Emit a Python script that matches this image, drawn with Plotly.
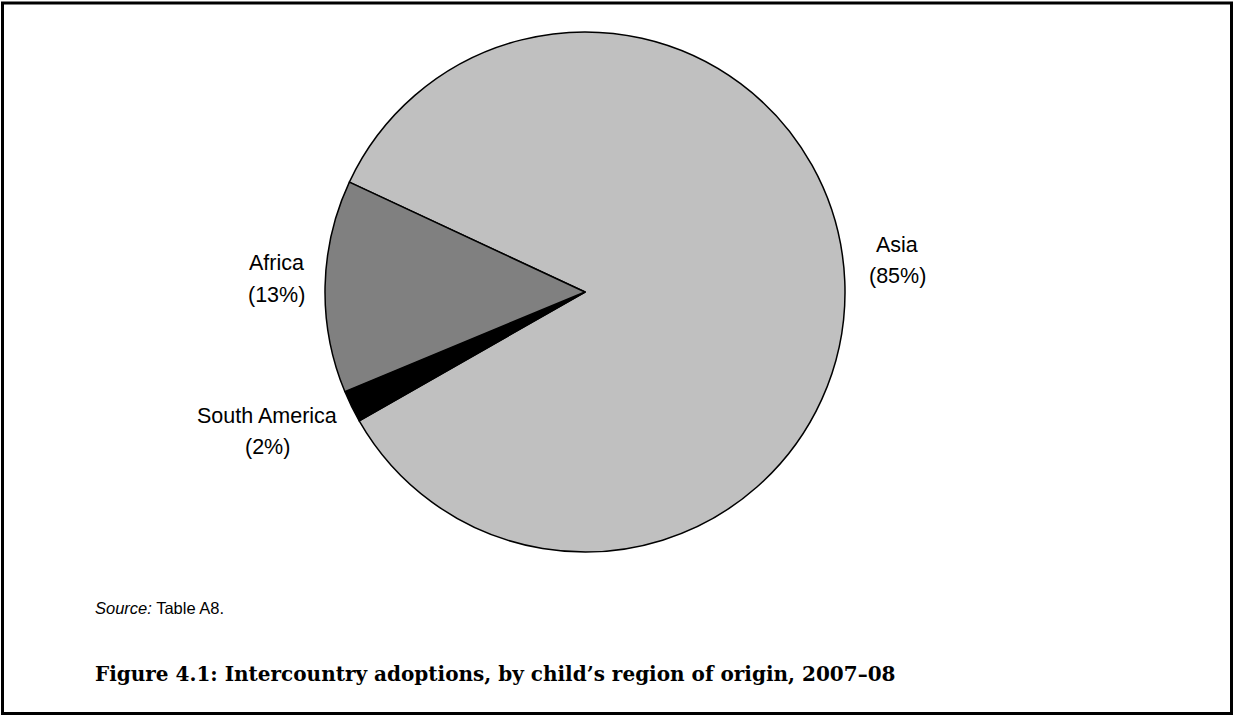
import plotly.graph_objects as go

# Data
regions = ["Asia", "South America", "Africa"]
shares = [84.8, 2.0, 13.2]
colors = ["#C0C0C0", "#000000", "#808080"]

title_text = "Figure 4.1: Intercountry adoptions, by child\u2019s region of origin, 2007\u201308"
source_text = "<i>Source:</i> Table A8."

W, H = 1234, 716

def px(x):
    return x / W

def py(y):
    return 1 - y / H

fig = go.Figure()
fig.add_trace(go.Pie(
    labels=regions,
    values=shares,
    sort=False,
    direction="clockwise",
    rotation=-65,
    marker=dict(colors=colors, line=dict(color="#000000", width=1.5)),
    textinfo="none",
    hoverinfo="label+percent",
    showlegend=False,
    domain=dict(x=[px(325), px(845)], y=[py(552), py(32)]),
))

# Label positions (pixel centres of the two lines)
label_pos = {
    "Asia": (897, 245.5, 276),
    "Africa": (276, 263.5, 294.5),
    "South America": (267, 415.5, 446.5),
}
total = sum(shares)
annotations = []
for name, val in zip(regions, shares):
    x, y1, y2 = label_pos[name]
    pct = round(val / total * 100)
    for txt, yy in ((name, y1), (f"({pct}%)", y2)):
        annotations.append(dict(
            x=px(x), y=py(yy), xref="paper", yref="paper",
            text=txt, showarrow=False, xanchor="center", yanchor="middle",
            font=dict(family="Liberation Sans, Arial, sans-serif", size=21.5, color="#000000"),
        ))

annotations.append(dict(
    x=px(93), y=py(608), xref="paper", yref="paper", text=source_text,
    showarrow=False, xanchor="left", yanchor="middle",
    font=dict(family="Liberation Sans, Arial, sans-serif", size=16.5, color="#000000"),
))
annotations.append(dict(
    x=px(93), y=py(673.5), xref="paper", yref="paper", text=f"<b>{title_text}</b>",
    showarrow=False, xanchor="left", yanchor="middle",
    font=dict(family="DejaVu Serif, serif", size=20, color="#000000"),
))

fig.update_layout(
    width=W, height=H,
    margin=dict(l=0, r=0, t=0, b=0),
    paper_bgcolor="#FFFFFF",
    plot_bgcolor="#FFFFFF",
    annotations=annotations,
    shapes=[dict(
        type="rect", xref="paper", yref="paper",
        x0=px(2.5), x1=px(1231.5), y0=py(713.5), y1=py(3),
        line=dict(color="#000000", width=3), fillcolor="rgba(0,0,0,0)",
    )],
)

fig.write_html(
    "out.html",
    config={"displayModeBar": False},
    post_script="document.body.style.margin='0';document.body.style.overflow='hidden';",
)
